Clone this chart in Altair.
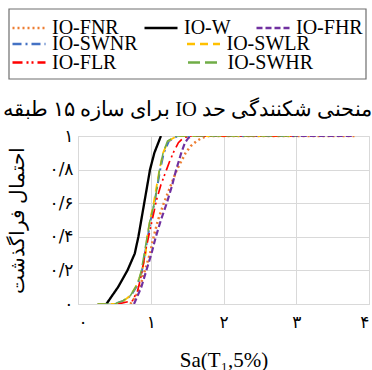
import altair as alt
import pandas as pd

# ---------------- data ----------------
series_names = ["IO-FNR", "IO-W", "IO-FHR", "IO-SWNR", "IO-SWLR", "IO-FLR", "IO-SWHR"]
series_colors = ["#ED7D31", "#000000", "#7030A0", "#4472C4", "#FFC000", "#FF0000", "#70AD47"]
series_dashes = [[2, 3], [1, 0], [6, 3], [9, 4, 2, 4], [8, 5], [10, 4, 2, 3, 2, 4], [12, 5]]
series_widths = [2.5, 1.5, 3, 2.5, 2.5, 2.5, 3]
legend_row1 = ["IO-FNR", "IO-W", "IO-FHR"]
legend_row2 = ["IO-SWNR", "IO-SWLR"]
legend_row3 = ["IO-FLR", "IO-SWHR"]

sa_FNR = [0.72, 0.80, 0.85, 0.92, 0.99, 1.04, 1.10, 1.18, 1.27, 1.36, 1.42, 1.48, 1.55, 1.63, 1.71, 1.80, 3.80]
p_FNR = [0, 0.05, 0.10, 0.20, 0.30, 0.40, 0.50, 0.60, 0.70, 0.80, 0.85, 0.90, 0.94, 0.97, 0.99, 1.0, 1.0]

sa_W = [0.39, 0.55, 0.68, 0.78, 0.83, 0.87, 0.91, 0.95, 0.99, 1.05, 1.14]
p_W = [0, 0.1, 0.2, 0.3, 0.4, 0.5, 0.6, 0.7, 0.8, 0.9, 1.0]

sa_FHR = [0.77, 0.82, 0.87, 0.94, 1.01, 1.07, 1.14, 1.22, 1.29, 1.35, 1.42, 1.47, 1.52, 1.58, 3.80]
p_FHR = [0, 0.05, 0.10, 0.20, 0.30, 0.40, 0.50, 0.60, 0.70, 0.80, 0.90, 0.96, 0.99, 1.0, 1.0]

sa_SWNR = [0.27, 0.50, 0.63, 0.73, 0.80, 0.85, 0.88, 0.92, 0.96, 1.00, 1.05, 1.09, 1.13, 1.18, 1.25, 1.37, 3.0]
p_SWNR = [0, 0, 0.02, 0.05, 0.10, 0.15, 0.20, 0.30, 0.40, 0.50, 0.60, 0.70, 0.80, 0.90, 0.97, 1.0, 1.0]

sa_SWLR = [0.27, 0.52, 0.63, 0.72, 0.79, 0.84, 0.88, 0.93, 0.95, 0.99, 1.04, 1.08, 1.12, 1.17, 1.24, 1.36, 3.0]
p_SWLR = [0, 0, 0.02, 0.05, 0.10, 0.15, 0.20, 0.30, 0.40, 0.50, 0.60, 0.70, 0.80, 0.90, 0.97, 1.0, 1.0]

sa_FLR = [0.55, 0.75, 0.82, 0.86, 0.89, 0.93, 0.98, 1.03, 1.08, 1.14, 1.20, 1.26, 1.32, 1.38, 1.45, 1.55, 3.0]
p_FLR = [0, 0.02, 0.08, 0.15, 0.22, 0.32, 0.42, 0.52, 0.62, 0.71, 0.78, 0.85, 0.91, 0.96, 0.99, 1.0, 1.0]

sa_SWHR = [0.27, 0.50, 0.62, 0.72, 0.79, 0.84, 0.87, 0.91, 0.95, 0.99, 1.05, 1.09, 1.12, 1.17, 1.23, 1.35, 3.0]
p_SWHR = [0, 0, 0.02, 0.05, 0.10, 0.15, 0.20, 0.30, 0.40, 0.50, 0.60, 0.70, 0.80, 0.90, 0.97, 1.0, 1.0]

sa_all = [sa_FNR, sa_W, sa_FHR, sa_SWNR, sa_SWLR, sa_FLR, sa_SWHR]
p_all = [p_FNR, p_W, p_FHR, p_SWNR, p_SWLR, p_FLR, p_SWHR]

x_ticks = [0, 1, 2, 3, 4]
x_tick_labels = ["۰", "۱", "۲", "۳", "۴"]
y_ticks = [0, 0.2, 0.4, 0.6, 0.8, 1.0]
y_tick_labels = ["۰", "۰/۲", "۰/۴", "۰/۶", "۰/۸", "۱"]

chart_title = "\u202bمنحنی شکنندگی حد IO برای سازه ۱۵ طبقه\u202c"
x_title = "Sa(T\u2081,5%)"
y_title = "احتمال فراگذشت"

rows = []
for name, xs, ps in zip(series_names, sa_all, p_all):
    for i, (xv, pv) in enumerate(zip(xs, ps)):
        rows.append({"series": name, "sa": xv, "p": pv, "order": i})
df = pd.DataFrame(rows)

# ---------------- scales / axes ----------------
x_expr = "[" + ",".join(f"'{s}'" for s in x_tick_labels) + "][round(datum.value)]"
y_expr = "[" + ",".join(f"'{s}'" for s in y_tick_labels) + "][round(datum.value*5)]"

x_scale = alt.Scale(domain=[0, 4], nice=False)
y_scale = alt.Scale(domain=[0, 1], nice=False)
width_scale = alt.Scale(domain=series_names, range=series_widths)

x_axis = alt.Axis(values=x_ticks, labelExpr=x_expr, title=x_title, ticks=False,
                  labelFlush=True, labelPadding=10, titlePadding=19, titleFontSize=21)
y_axis = alt.Axis(values=y_ticks, labelExpr=y_expr, title=y_title, ticks=False,
                  labelPadding=5, titlePadding=22)
title_axis = alt.Axis(orient="top", title=chart_title, labels=False, ticks=False,
                      domain=False, grid=False, titlePadding=17, titleX=109,
                      titleAlign="center", titleFontSize=20.5)

OX, OY = 77, 137  # plot origin in page pixels, used for legend placement only


def make_legend(x, y, cols, cpad):
    return alt.Legend(orient="none", legendX=x - OX, legendY=y - OY, direction="horizontal",
                      columns=cols, columnPadding=cpad, rowPadding=0,
                      symbolType="stroke", symbolSize=1089, symbolStrokeWidth=2.5,
                      labelFont="Liberation Serif", labelFontSize=20, labelOffset=5,
                      labelLimit=300, labelColor="#000000")


def series_group(names, leg, xaxis):
    idx = [series_names.index(n) for n in names]
    cscale = alt.Scale(domain=names, range=[series_colors[i] for i in idx])
    dscale = alt.Scale(domain=names, range=[series_dashes[i] for i in idx])
    sub = []
    for name in names:
        sub.append(
            alt.Chart(df)
            .transform_filter(alt.datum.series == name)
            .mark_line(clip=True)
            .encode(
                x=alt.X("sa:Q", scale=x_scale, axis=xaxis),
                y=alt.Y("p:Q", scale=y_scale, axis=y_axis),
                color=alt.Color("series:N", scale=cscale, title=None, legend=leg),
                strokeDash=alt.StrokeDash("series:N", scale=dscale, title=None, legend=leg),
                strokeWidth=alt.StrokeWidth("series:N", scale=width_scale, legend=None),
                order="order:Q",
            )
        )
    return alt.layer(*sub)


group_a = series_group(legend_row1, make_legend(10, 11, 3, 20), x_axis)
group_b = series_group(legend_row2, make_legend(10, 27, 2, 43.5), None)
group_c = series_group(legend_row3, make_legend(10, 45.5, 2, 65.5), None)

# frame around the legend (gradient legend used as a box)
box_layer = (
    alt.Chart(df)
    .transform_filter("false")
    .mark_point()
    .encode(
        x=alt.X("sa:Q", scale=x_scale, axis=None),
        y=alt.Y("p:Q", scale=y_scale, axis=y_axis),
        fill=alt.Fill("p:Q", title=None,
                      scale=alt.Scale(domain=[0, 1], range=["rgba(255,255,255,0)", "rgba(255,255,255,0)"]),
                      legend=alt.Legend(orient="none", legendX=8 - OX, legendY=10 - OY,
                                        direction="horizontal", gradientLength=357,
                                        gradientThickness=70, gradientStrokeColor="#333333",
                                        gradientStrokeWidth=1.2, labelOpacity=0,
                                        labelFontSize=1)),
    )
)

title_layer = (
    alt.Chart(df)
    .transform_filter("false")
    .mark_line()
    .encode(
        x=alt.X("sa:Q", scale=x_scale, axis=title_axis),
        y=alt.Y("p:Q", scale=y_scale, axis=y_axis),
    )
)

chart = (
    alt.layer(group_a, group_b, group_c, box_layer, title_layer)
    .resolve_scale(color="independent", strokeDash="independent")
    .resolve_axis(x="independent")
    .properties(width=372, height=370,
                autosize=alt.AutoSizeParams(type="fit", contains="padding"),
                padding={"left": 2, "top": 99, "right": 3, "bottom": 0})
    .configure(font="Liberation Serif")
    .configure_view(stroke="#d9d9d9")
    .configure_axis(gridColor="#d9d9d9", domainColor="#d9d9d9", labelColor="#000000",
                    labelFont="DejaVu Sans", labelFontSize=17,
                    titleFont="Liberation Serif", titleFontSize=20,
                    titleFontWeight="normal", titleColor="#000000")
)

chart.save("out.html", embed_options={"renderer": "svg", "actions": False})
